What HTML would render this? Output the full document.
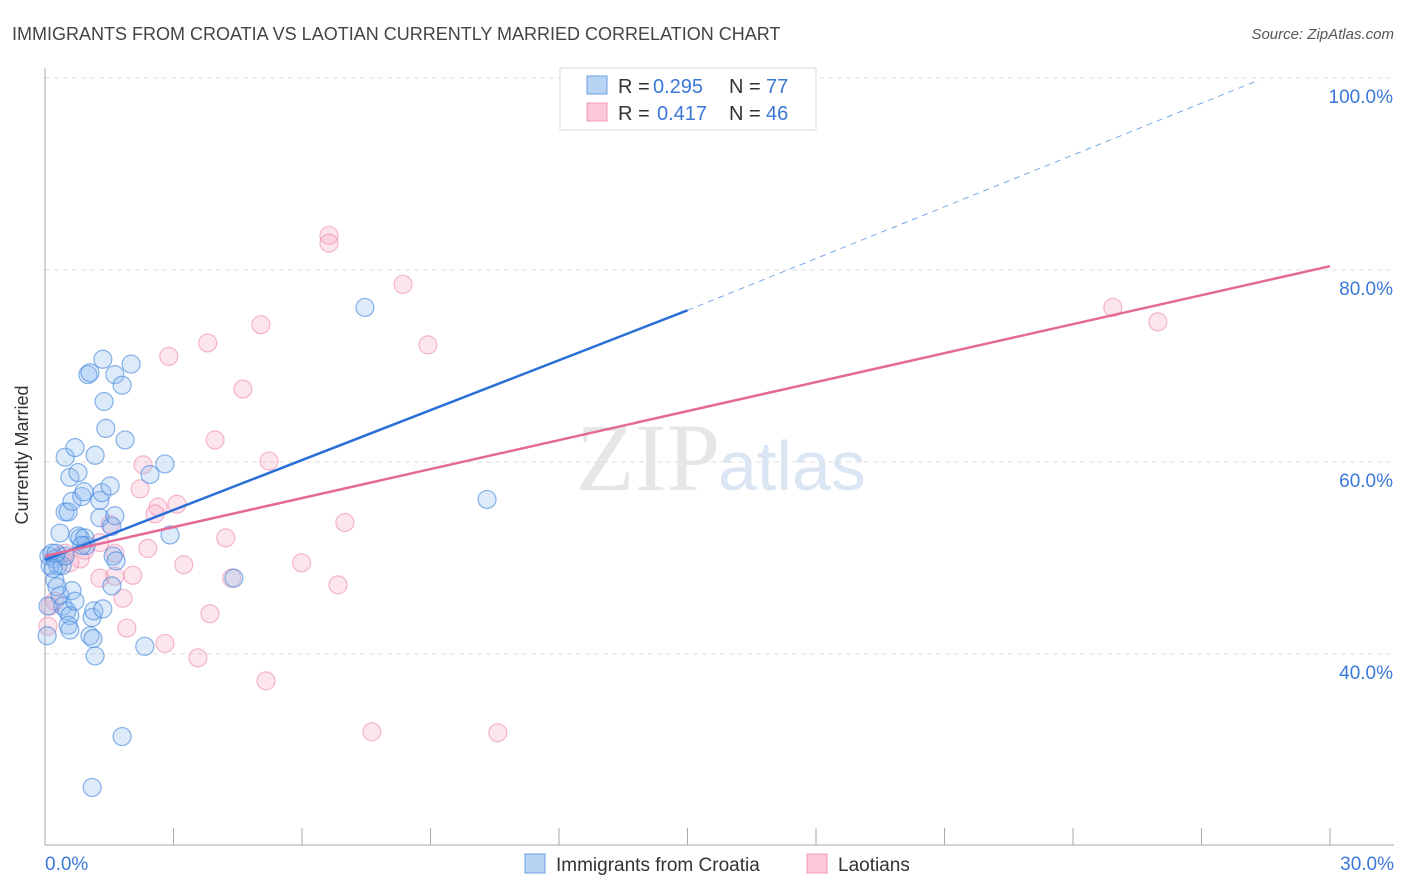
<!DOCTYPE html>
<html><head><meta charset="utf-8"><style>
body{margin:0;background:#fff;font-family:"Liberation Sans",sans-serif;}
svg{display:block}
</style></head><body>
<svg id="chart" width="1406" height="892">
<text x="12" y="40" font-size="18" fill="#444">IMMIGRANTS FROM CROATIA VS LAOTIAN CURRENTLY MARRIED CORRELATION CHART</text>
<text x="1394" y="39" font-size="15" fill="#555" font-style="italic" text-anchor="end">Source: ZipAtlas.com</text>
<text x="720" y="490" font-size="96" fill="#e6e6e6" text-anchor="end" font-family="Liberation Serif,serif">ZIP</text>
<text x="718" y="490" font-size="70" fill="#dbe6f5">atlas</text>
<g id="grid"></g>
<g id="axes"></g>
<g id="pts"></g>
<g id="lines"></g>
<text x="28" y="455" font-size="18" fill="#333" transform="rotate(-90 28 455)" text-anchor="middle">Currently Married</text>
<g>
<rect x="560" y="68" width="256" height="62" fill="#fff" stroke="#ddd"/>
<rect x="587" y="76" width="20" height="18" fill="#b8d4f5" stroke="#6a9fe0"/>
<rect x="587" y="103" width="20" height="18" fill="#fcc8d8" stroke="#f09ab5"/>
<text x="618" y="93" font-size="20" fill="#333">R =</text>
<text x="653" y="93" font-size="20" fill="#3a78d8">0.295</text>
<text x="729" y="93" font-size="20" fill="#333">N =</text>
<text x="766" y="93" font-size="20" fill="#3a78d8">77</text>
<text x="618" y="120" font-size="20" fill="#333">R =</text>
<text x="657" y="120" font-size="20" fill="#3a78d8">0.417</text>
<text x="729" y="120" font-size="20" fill="#333">N =</text>
<text x="766" y="120" font-size="20" fill="#3a78d8">46</text>
</g>
<g>
<rect x="525" y="854" width="20" height="19" fill="#b8d4f5" stroke="#6a9fe0"/>
<text x="556" y="871" font-size="19" fill="#333">Immigrants from Croatia</text>
<rect x="807" y="854" width="20" height="19" fill="#fcc8d8" stroke="#f09ab5"/>
<text x="838" y="871" font-size="19" fill="#333">Laotians</text>
</g>
</svg>
<script>
const yTicks=[40,60,80,100];
const xTickLabels=["0.0%","30.0%"];
const blueX=[0.09,0.16,0.23,0.12,0.3,0.07,0.05,0.23,0.4,0.47,0.35,0.42,0.51,0.58,0.63,0.7,0.54,0.58,0.47,0.58,0.47,0.54,0.63,0.7,0.77,0.82,0.86,0.91,0.96,1.0,1.05,1.1,1.14,1.05,1.12,1.17,1.17,1.28,1.33,1.28,1.35,1.38,1.42,1.52,1.56,1.63,1.63,1.59,1.66,1.56,1.35,1.8,1.87,2.01,2.45,2.8,2.92,2.33,1.8,1.1,4.41,7.47,10.32,0.77,0.93,0.35,0.26,0.19,0.28,0.86];
const blueY=[50.2,50.5,49.9,49.2,49.2,45.0,41.9,47.7,49.2,50.2,46.1,45.0,44.5,44.0,46.6,45.5,43.0,42.5,60.5,58.4,54.8,54.8,55.9,61.5,58.9,52.1,56.4,56.9,51.3,69.1,69.3,43.8,44.5,41.9,41.6,39.8,60.7,56.0,56.8,54.2,70.7,66.3,63.5,57.5,53.3,54.4,69.1,50.2,49.7,47.1,44.7,68.0,62.3,70.2,58.7,59.8,52.4,40.8,31.4,26.1,47.9,76.1,56.1,52.3,52.1,52.6,50.5,48.9,47.0,51.3];
const pinkX=[6.63,6.63,8.36,5.04,3.8,8.94,2.89,4.62,3.97,5.23,2.29,2.22,3.08,2.64,2.57,7.0,2.4,4.22,1.52,1.28,0.93,0.82,0.58,0.35,1.28,1.63,2.05,3.24,5.99,6.84,1.82,3.85,1.91,2.8,3.57,5.16,7.63,10.57,24.93,25.98,0.12,0.07,0.23,0.47,1.63,4.36];
const pinkY=[83.6,82.8,78.5,74.3,72.4,72.2,71.0,67.6,62.3,60.1,59.7,57.2,55.6,55.3,54.6,53.7,51.0,52.1,53.5,51.6,50.8,49.9,49.5,50.2,47.9,48.1,48.2,49.3,49.5,47.2,45.8,44.2,42.7,41.1,39.6,37.2,31.9,31.8,76.1,74.6,45.0,42.9,45.5,50.5,50.5,47.9];
const blueLine=[[0,49.8],[15,75.8]];
const blueDash=[[15,75.8],[28.35,99.8]];
const pinkLine=[[0,50.2],[30,80.4]];
const X=v=>45+v/30*1285, Y=v=>78+(100-v)*9.6;
const NS="http://www.w3.org/2000/svg";
function mk(tag,attrs,parent){const e=document.createElementNS(NS,tag);for(const k in attrs)e.setAttribute(k,attrs[k]);document.getElementById(parent).appendChild(e);return e;}
yTicks.forEach(t=>{
 const l=mk('line',{x1:45,x2:1394,y1:Y(t),y2:Y(t),stroke:'#ddd','stroke-dasharray':'5,4'},'grid');
 
 
 const tx=mk('text',{x:1393,y:Y(t)+25,'font-size':19,fill:'#3a78d8','text-anchor':'end'},'axes');
 tx.textContent=t.toFixed(1)+'%';
 
 
});
let ax=mk('line',{x1:45,x2:45,y1:68,y2:845,stroke:'#aaa'},'axes');


ax=mk('line',{x1:45,x2:1394,y1:845,y2:845,stroke:'#aaa'},'axes');


for(let i=1;i<=10;i++){const t=mk('line',{x1:X(i*3),x2:X(i*3),y1:828,y2:845,stroke:'#aaa'},'axes');
 
 }
[[45,'start',0],[1394,'end',1]].forEach(([x,a,i])=>{const t=mk('text',{x:x,y:870,'font-size':19,fill:'#3a78d8','text-anchor':a},'axes');t.textContent=xTickLabels[i];
 
 });
pinkX.forEach((v,i)=>{const c=mk('circle',{cx:X(v),cy:Y(pinkY[i]),r:9,fill:'rgba(248,170,195,0.3)',stroke:'rgba(235,130,165,0.55)','stroke-width':1.2},'pts');
 
 });
blueX.forEach((v,i)=>{const c=mk('circle',{cx:X(v),cy:Y(blueY[i]),r:9,fill:'rgba(140,185,240,0.3)',stroke:'rgba(60,130,220,0.6)','stroke-width':1.2},'pts');
 
 });
let ln=mk('line',{x1:X(blueLine[0][0]),y1:Y(blueLine[0][1]),x2:X(blueLine[1][0]),y2:Y(blueLine[1][1]),stroke:'#2a6fd8','stroke-width':2.5},'lines');


ln=mk('line',{x1:X(blueDash[0][0]),y1:Y(blueDash[0][1]),x2:X(blueDash[1][0]),y2:Y(blueDash[1][1]),stroke:'#7aa8e6','stroke-width':1,'stroke-dasharray':'6,5'},'lines');


ln=mk('line',{x1:X(pinkLine[0][0]),y1:Y(pinkLine[0][1]),x2:X(pinkLine[1][0]),y2:Y(pinkLine[1][1]),stroke:'#e46a95','stroke-width':2.5},'lines');


</script>
</body></html>
